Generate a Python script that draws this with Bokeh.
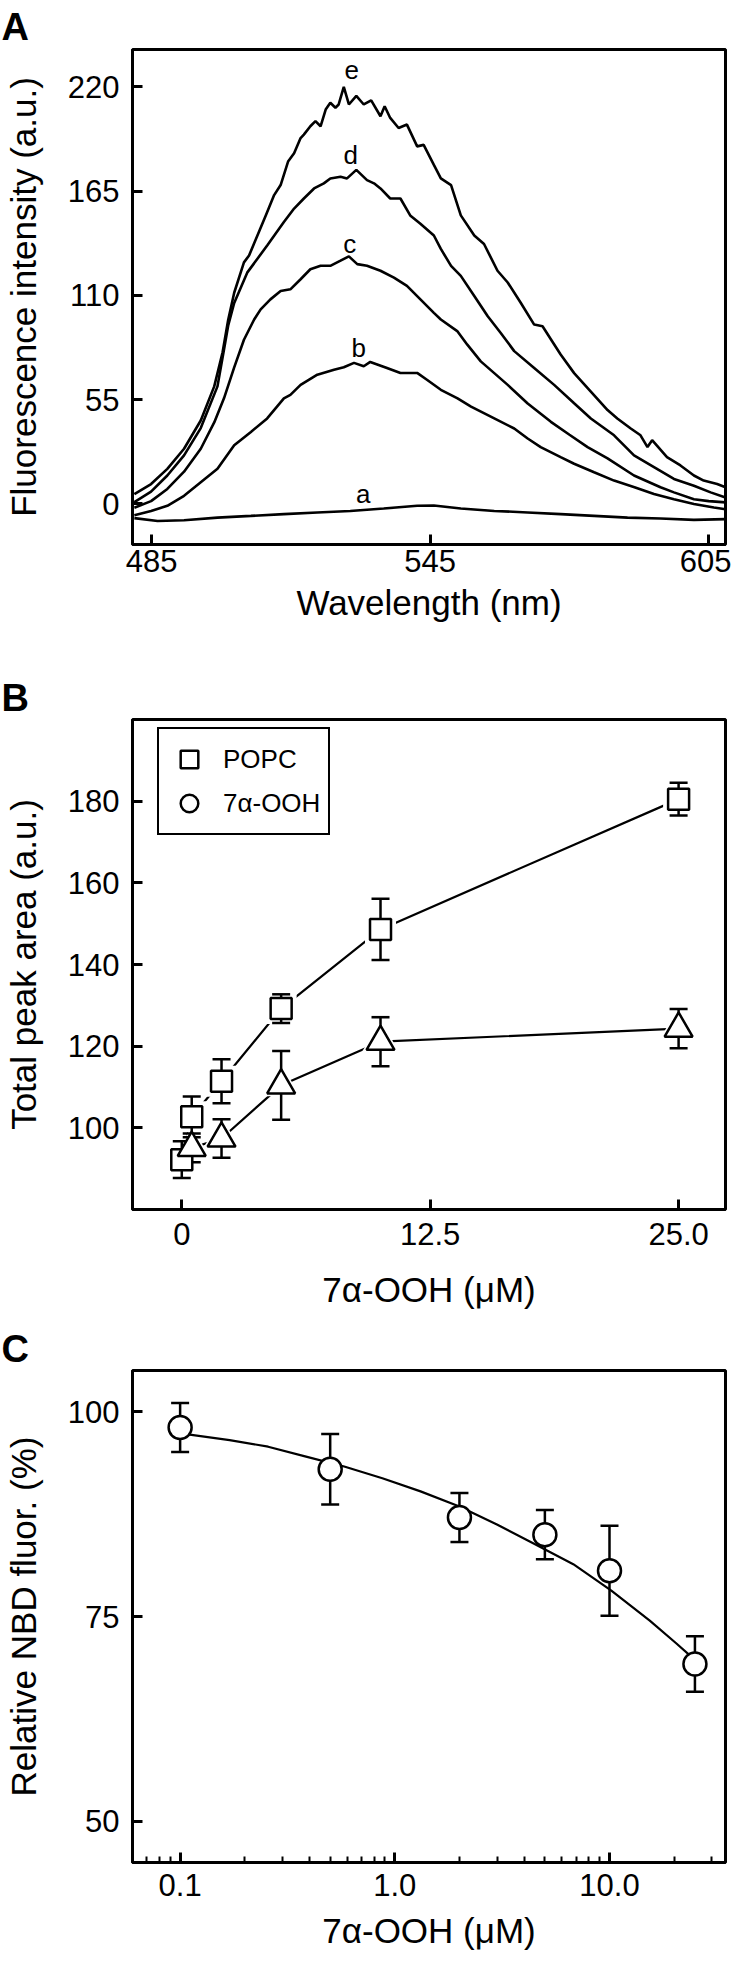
from bokeh.plotting import figure
from bokeh.layouts import column
from bokeh.models import (FixedTicker, Legend, LegendItem, Title,
                          CustomJSTickFormatter, PrintfTickFormatter)
from bokeh.core.properties import value
from bokeh.embed import file_html
from bokeh.resources import INLINE

FONT = "Liberation Sans"
NAN = float("nan")

# ---------------- Panel A data (emission spectra) ----------------
a_wl = [481.3, 486.3, 492.0, 499.2, 506.4, 513.5, 520.7, 527.8, 535.0, 542.2, 545.8,
        551.6, 558.8, 566.0, 573.1, 580.3, 587.5, 594.6, 601.8, 608.6]
a_int = [-7.5, -9.0, -8.6, -7.2, -6.3, -5.4, -4.5, -3.7, -2.4, -1.0, -0.8,
         -2.4, -3.7, -4.5, -5.4, -6.3, -7.2, -7.7, -8.4, -8.0]

b_wl = [481.3, 484.9, 488.4, 492.0, 495.6, 499.2, 502.8, 506.4, 509.9, 513.5, 514.9,
        517.1, 520.7, 524.3, 526.4, 528.6, 530.7, 532.1, 535.7, 538.6, 542.2, 544.3,
        547.3, 550.9, 553.8, 558.8, 563.1, 566.0, 568.8, 573.1, 576.0, 580.3, 584.6,
        589.0, 593.2, 597.5, 601.8, 606.1, 608.6]
b_int = [-6.0, -3.7, -1.0, 4.3, 11.4, 18.5, 30.9, 38.0, 45.1, 55.7, 57.5,
         62.8, 68.2, 70.8, 72.1, 74.4, 72.6, 74.9, 71.7, 69.1, 69.1, 65.5,
         60.2, 55.7, 51.3, 45.1, 39.8, 34.5, 30.0, 24.7, 21.2, 16.7, 12.3,
         8.8, 5.2, 2.5, 0.0, -1.9, -2.8]

c_wl = [481.3, 484.9, 488.4, 492.0, 495.6, 498.5, 500.6, 502.8, 504.9, 507.1, 508.5,
        510.6, 512.8, 514.9, 517.1, 519.2, 521.4, 523.5, 525.7, 527.5, 529.3, 531.4,
        534.3, 537.2, 540.0, 542.9, 545.8, 547.3, 550.9, 553.0, 555.9, 558.8, 561.7,
        566.0, 571.0, 575.0, 578.9, 583.2, 588.9, 594.6, 597.5, 601.8, 605.0, 608.6]
c_int = [-2.0, 1.5, 7.9, 17.0, 29.1, 43.0, 55.7, 72.0, 86.6, 97.3, 102.6,
         107.9, 112.3, 113.2, 118.5, 123.8, 125.6, 125.6, 128.3, 130.6, 126.5, 125.6,
         123.0, 119.4, 115.0, 107.9, 100.8, 97.3, 91.0, 84.0, 75.2, 69.0, 62.8,
         53.0, 43.3, 36.5, 30.0, 24.0, 15.0, 8.8, 6.1, 2.5, 1.5, 0.8]

d_wl = [481.3, 484.9, 488.4, 492.0, 495.6, 499.2, 500.5, 501.5, 502.8, 505.6, 509.9,
        513.5, 515.7, 517.8, 520.0, 522.1, 523.5, 525.7, 527.1, 529.1, 531.4, 532.9,
        534.3, 536.4, 538.6, 540.7, 542.9, 545.8, 547.3, 549.5, 551.6, 554.5, 557.4,
        560.2, 563.1, 567.4, 571.7, 576.0, 579.6, 584.6, 588.9, 593.2, 597.5, 601.8,
        605.4, 608.6]
d_int = [1.0, 6.5, 15.0, 25.6, 40.0, 62.0, 80.0, 94.0, 106.0, 122.0, 136.3,
         148.7, 155.8, 161.1, 166.4, 169.1, 171.7, 172.6, 171.7, 176.2, 170.8, 169.1,
         166.4, 161.1, 161.1, 152.2, 147.8, 141.6, 134.5, 125.6, 120.3, 109.7, 99.0,
         90.2, 80.6, 71.7, 62.8, 53.1, 45.1, 36.2, 25.6, 19.4, 13.2, 9.6,
         6.1, 3.4]

e_wl = [481.3, 484.9, 488.4, 492.0, 495.6, 498.5, 500.3, 501.5, 502.8, 504.9, 506.0,
        507.8, 509.6, 511.4, 512.8, 514.4, 515.7, 517.1, 517.8, 519.2, 520.3, 521.4,
        522.5, 523.5, 524.6, 525.3, 526.4, 527.5, 529.1, 530.7, 532.3, 534.3, 535.2,
        536.4, 538.2, 540.0, 542.2, 543.6, 545.8, 547.3, 549.5, 551.6, 554.5, 556.6,
        559.5, 561.7, 564.5, 567.4, 569.2, 571.3, 573.1, 576.0, 579.6, 583.2, 585.3,
        588.2, 590.3, 591.8, 592.8, 596.0, 598.9, 601.8, 603.9, 606.8, 608.6]
e_int = [5.2, 10.5, 18.5, 29.1, 44.0, 62.0, 80.0, 97.0, 111.4, 127.4, 131.0,
         141.6, 152.2, 162.9, 168.2, 180.6, 185.0, 193.0, 194.8, 199.2, 201.9, 199.2,
         208.0, 211.6, 209.0, 210.7, 220.0, 210.7, 215.2, 210.7, 212.9, 204.5, 209.8,
         203.6, 198.3, 200.1, 188.6, 189.4, 178.8, 171.7, 168.2, 152.2, 141.6, 137.1,
         123.0, 116.8, 106.1, 94.6, 93.7, 85.7, 78.8, 69.0, 59.3, 49.5, 45.1,
         39.8, 36.2, 30.0, 33.6, 24.7, 20.3, 15.0, 12.3, 10.5, 8.8]

curve_names = ["a", "b", "c", "d", "e"]
name_wl = [530.6, 529.6, 527.7, 527.9, 528.1]
name_int = [5.0, 82.0, 137.0, 184.0, 229.0]

a_xticks = [485, 545, 605]
a_yticks = [0, 55, 110, 165, 220]

# ---------------- Panel B data ----------------
b_conc_popc = [0, 0.5, 2, 5, 10, 25]
b_popc = [92.2, 102.7, 111.4, 129.2, 148.6, 180.5]
b_popc_err = [4.5, 5.0, 5.4, 3.5, 7.5, 4.0]
b_conc_ooh = [0.5, 2, 5, 10, 25]
b_ooh = [95.1, 97.4, 110.4, 121.1, 124.3]
b_ooh_err = [3.5, 4.7, 8.4, 6.0, 4.8]
b_xticks = [0, 12.5, 25]
b_yticks = [100, 120, 140, 160, 180]
b_legend = ["POPC", "7\u03b1-OOH"]

# ---------------- Panel C data ----------------
c_conc = [0.1, 0.5, 2, 5, 10, 25]
c_nbd = [98.1, 93.0, 87.1, 85.0, 80.6, 69.2]
c_nbd_err = [3.0, 4.3, 3.0, 3.0, 5.5, 3.4]
c_fit_x = [0.1, 0.1086, 0.170, 0.257, 0.386, 0.581, 0.875, 1.318, 1.986, 2.99,
           4.5, 6.78, 10.2, 15.4, 20.5, 24.1, 25.0]
c_fit_y = [97.4, 97.25, 96.56, 95.75, 94.54, 93.33, 91.9, 90.29, 88.47, 86.25,
           83.82, 81.39, 78.16, 74.5, 71.7, 70.06, 69.6]
c_xticks = [0.1, 1, 10]
c_xminor = [0.07, 0.08, 0.09, 0.2, 0.3, 0.4, 0.5, 0.6, 0.7, 0.8, 0.9,
            2, 3, 4, 5, 6, 7, 8, 9, 20, 30]
c_yticks = [50, 75, 100]

X_TITLE_BC = "7\u03b1-OOH (\u03bcM)"


def style(p, xstand, xlabstand, ystand=13, ylabstand=22):
    p.grid.visible = False
    p.outline_line_color = "black"
    p.outline_line_width = 3
    p.outline_line_alpha = 1.0
    p.background_fill_color = "white"
    p.border_fill_color = "white"
    for ax in p.axis:
        ax.axis_line_width = 3
        ax.axis_line_color = "black"
        ax.major_tick_in = 10
        ax.major_tick_out = 0
        ax.major_tick_line_width = 3
        ax.major_tick_line_color = "black"
        ax.minor_tick_line_color = None
        ax.major_label_text_font = FONT
        ax.major_label_text_font_size = "31px"
        ax.major_label_text_color = "black"
        ax.axis_label_text_font = FONT
        ax.axis_label_text_font_size = "35px"
        ax.axis_label_text_font_style = "normal"
        ax.axis_label_text_color = "black"
    p.xaxis.major_label_standoff = xstand
    p.xaxis.axis_label_standoff = xlabstand
    p.yaxis.major_label_standoff = ystand
    p.yaxis.axis_label_standoff = ylabstand


def panel_title(text, standoff):
    return Title(text=text, align="left", offset=-131, standoff=standoff,
                 text_font=FONT, text_font_size="38px", text_font_style="bold",
                 text_color="black")


def errbars(p, xs, ys, es):
    lo = [v - e for v, e in zip(ys, es)]
    hi = [v + e for v, e in zip(ys, es)]
    p.segment(x0=xs, y0=lo, x1=xs, y1=hi, line_color="black", line_width=2.5)
    p.scatter(x=xs, y=lo, marker="dash", size=18, line_color="black", line_width=2.5)
    p.scatter(x=xs, y=hi, marker="dash", size=18, line_color="black", line_width=2.5)


# ---------------- Panel A ----------------
pA = figure(frame_width=593, frame_height=495, min_border_left=132, min_border_right=6,
            min_border_top=49, min_border_bottom=112,
            x_range=(480.9, 608.6), y_range=(-21.4, 239.7),
            output_backend="svg", toolbar_location=None,
            title=panel_title("A", 4),
            x_axis_label="Wavelength (nm)", y_axis_label="Fluorescence intensity (a.u.)")
for xs, ys in [(a_wl, a_int), (b_wl, b_int), (c_wl, c_int), (d_wl, d_int), (e_wl, e_int)]:
    pA.line(xs, ys, line_color="black", line_width=2.6)
pA.text(x=name_wl, y=name_int, text=curve_names, text_font=value(FONT),
        text_font_size="26px", text_align="center", text_baseline="alphabetic",
        text_color="black")
pA.xaxis.ticker = FixedTicker(ticks=a_xticks)
pA.yaxis.ticker = FixedTicker(ticks=a_yticks)
style(pA, 5, 8)

# ---------------- Panel B ----------------
pB = figure(frame_width=593, frame_height=490, min_border_left=132, min_border_right=6,
            min_border_top=63, min_border_bottom=109,
            x_range=(-2.48, 27.36), y_range=(80, 200),
            output_backend="svg", toolbar_location=None,
            title=panel_title("B", 2),
            x_axis_label=X_TITLE_BC, y_axis_label="Total peak area (a.u.)")
pB.line(b_conc_popc, b_popc, line_color="black", line_width=2.2)
pB.line(b_conc_ooh, b_ooh, line_color="black", line_width=2.2)
# white halos so that the connecting lines stop short of the markers
pB.scatter(b_conc_popc, b_popc, marker="square", size=31, fill_color="white",
           line_color=None)
pB.scatter(b_conc_ooh, b_ooh, marker="triangle", size=38, fill_color="white",
           line_color=None)
errbars(pB, b_conc_popc, b_popc, b_popc_err)
errbars(pB, b_conc_ooh, b_ooh, b_ooh_err)
r_sq = pB.scatter(b_conc_popc, b_popc, marker="square", size=21, fill_color="white",
                  line_color="black", line_width=2.5)
pB.scatter(b_conc_ooh, b_ooh, marker="triangle", size=28, fill_color="white",
           line_color="black", line_width=2.5)
# legend-only proxy (no visible point)
r_ci = pB.scatter([NAN], [NAN], marker="circle", size=20, fill_color="white",
                  line_color="black", line_width=2.5)
pB.xaxis.ticker = FixedTicker(ticks=b_xticks)
pB.xaxis.formatter = CustomJSTickFormatter(code="return tick == 0 ? '0' : tick.toFixed(1);")
pB.yaxis.ticker = FixedTicker(ticks=b_yticks)
leg = Legend(items=[LegendItem(label=b_legend[0], renderers=[r_sq], index=0),
                    LegendItem(label=b_legend[1], renderers=[r_ci], index=0)],
             location=(25, 374), orientation="vertical",
             label_text_font=FONT, label_text_font_size="26px", label_text_color="black",
             glyph_width=44, glyph_height=44, spacing=-8, padding=8, label_standoff=12,
             margin=0, border_line_color="black", border_line_width=2.5,
             border_line_alpha=1.0,
             background_fill_color="white", background_fill_alpha=1.0)
pB.add_layout(leg, "center")
style(pB, 13, 22)

# ---------------- Panel C ----------------
pC = figure(frame_width=593, frame_height=492, min_border_left=132, min_border_right=6,
            min_border_top=52, min_border_bottom=97,
            x_axis_type="log", x_range=(0.06, 34.7), y_range=(44.94, 105.06),
            output_backend="svg", toolbar_location=None,
            title=panel_title("C", 2),
            x_axis_label=X_TITLE_BC, y_axis_label="Relative NBD fluor. (%)")
pC.line(c_fit_x, c_fit_y, line_color="black", line_width=2.2)
errbars(pC, c_conc, c_nbd, c_nbd_err)
pC.scatter(c_conc, c_nbd, marker="circle", size=23, fill_color="white",
           line_color="black", line_width=2.5)
pC.xaxis.ticker = FixedTicker(ticks=c_xticks, minor_ticks=c_xminor)
pC.xaxis.formatter = PrintfTickFormatter(format="%.1f")
pC.yaxis.ticker = FixedTicker(ticks=c_yticks)
style(pC, 11, 12)
pC.xaxis.minor_tick_line_color = "black"
pC.xaxis.minor_tick_line_width = 2
pC.xaxis.minor_tick_in = 6
pC.xaxis.minor_tick_out = 0

layout = column(pA, pB, pC, spacing=0)
open("out.html", "w").write(file_html(layout, INLINE))
